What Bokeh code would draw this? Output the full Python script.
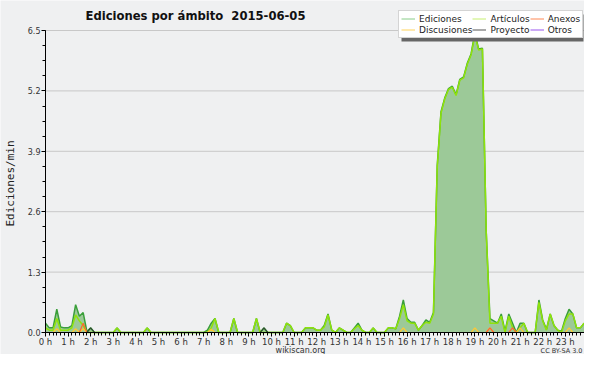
from bokeh.plotting import figure
from bokeh.models import (Range1d, FixedTicker, Label, Legend, LegendItem,
                          PrintfTickFormatter, BoxAnnotation)
from bokeh.embed import file_html
from bokeh.resources import INLINE

# 10-minute slots over the day (0 .. 23:50)
slots = list(range(144))
hours = [s / 6 for s in slots]

ediciones = [
    0.2, 0.1, 0.1, 0.5, 0.12, 0.1, 0.1, 0.15, 0.6, 0.35,
    0.43, 0.02, 0.1, 0, 0, 0, 0, 0, 0, 0.1,
    0, 0, 0, 0, 0, 0, 0, 0.1, 0, 0,
    0, 0, 0, 0, 0, 0, 0, 0, 0, 0,
    0, 0, 0, 0.05, 0.2, 0.3, 0, 0, 0, 0,
    0.3, 0, 0, 0, 0, 0, 0.3, 0, 0.1, 0,
    0, 0, 0, 0, 0.2, 0.15, 0, 0, 0, 0.1,
    0.1, 0.1, 0.05, 0.05, 0.15, 0.4, 0.05, 0, 0.1, 0.05,
    0, 0, 0.1, 0.2, 0.05, 0, 0, 0.1, 0, 0,
    0, 0.1, 0.1, 0.08, 0.35, 0.7, 0.3, 0.22, 0.22, 0.05,
    0.15, 0.27, 0.22, 0.43, 3.6, 4.75, 5.05, 5.25, 5.3, 5.12,
    5.45, 5.5, 5.8, 6.0, 6.45, 6.1, 6.12, 2.2, 0.3, 0.25,
    0.2, 0.4, 0.03, 0.4, 0.2, 0, 0.2, 0.2, 0, 0,
    0, 0.7, 0.27, 0.07, 0.4, 0.15, 0.05, 0.03, 0.3, 0.5,
    0.4, 0.1, 0.1, 0.2,
]
articulos = [
    0.1, 0.05, 0.05, 0.3, 0.05, 0.05, 0.05, 0.1, 0.38, 0.25,
    0.15, 0, 0, 0, 0, 0, 0, 0, 0, 0.1,
    0, 0, 0, 0, 0, 0, 0, 0.1, 0, 0,
    0, 0, 0, 0, 0, 0, 0, 0, 0, 0,
    0, 0, 0, 0, 0.1, 0.3, 0, 0, 0, 0,
    0.3, 0, 0, 0, 0, 0, 0.3, 0, 0, 0,
    0, 0, 0, 0, 0.2, 0.15, 0, 0, 0, 0.1,
    0.1, 0.1, 0.05, 0.05, 0.12, 0.38, 0.05, 0, 0.1, 0.05,
    0, 0, 0.08, 0.15, 0.05, 0, 0, 0.1, 0, 0,
    0, 0.1, 0.1, 0.08, 0.3, 0.6, 0.25, 0.2, 0.2, 0.05,
    0.15, 0.22, 0.2, 0.4, 3.55, 4.72, 5.03, 5.23, 5.28, 5.1,
    5.43, 5.48, 5.78, 5.98, 6.4, 6.08, 6.1, 2.18, 0.2, 0.2,
    0.2, 0.35, 0, 0.35, 0.1, 0, 0.1, 0.2, 0, 0,
    0, 0.65, 0.25, 0.05, 0.4, 0.15, 0.05, 0, 0.25, 0.4,
    0.4, 0.1, 0.1, 0.2,
]
discusiones = [
    0, 0, 0, 0.08, 0, 0, 0, 0, 0.08, 0,
    0.08, 0, 0, 0, 0, 0, 0, 0, 0, 0,
    0, 0, 0, 0, 0, 0, 0, 0, 0, 0,
    0, 0, 0, 0, 0, 0, 0, 0, 0, 0,
    0, 0, 0, 0, 0.07, 0, 0, 0, 0, 0,
    0, 0, 0, 0, 0, 0, 0, 0, 0, 0,
    0, 0, 0, 0, 0, 0, 0, 0, 0, 0,
    0, 0, 0, 0, 0, 0, 0, 0, 0, 0,
    0, 0, 0, 0, 0, 0, 0, 0, 0, 0,
    0, 0, 0, 0, 0, 0.1, 0, 0, 0, 0,
    0, 0, 0, 0, 0, 0, 0, 0, 0, 0,
    0, 0, 0, 0, 0.1, 0, 0, 0, 0.1, 0,
    0, 0, 0, 0, 0, 0, 0.1, 0, 0, 0,
    0, 0, 0, 0, 0, 0, 0, 0, 0, 0.1,
    0, 0, 0, 0,
]
anexos = [
    0, 0, 0, 0, 0, 0, 0, 0, 0, 0,
    0.2, 0, 0, 0, 0, 0, 0, 0, 0, 0,
    0, 0, 0, 0, 0, 0, 0, 0, 0, 0,
    0, 0, 0, 0, 0, 0, 0, 0, 0, 0,
    0, 0, 0, 0, 0, 0, 0, 0, 0, 0,
    0, 0, 0, 0, 0, 0, 0, 0, 0, 0,
    0, 0, 0, 0, 0, 0, 0, 0, 0, 0,
    0, 0, 0, 0, 0, 0, 0, 0, 0, 0,
    0, 0, 0, 0, 0, 0, 0, 0, 0, 0,
    0, 0, 0, 0, 0, 0, 0, 0, 0, 0,
    0, 0, 0, 0, 0, 0, 0, 0, 0, 0,
    0, 0, 0, 0, 0, 0, 0, 0, 0.1, 0,
    0, 0, 0, 0, 0.1, 0, 0, 0, 0, 0,
    0, 0, 0, 0, 0, 0, 0, 0, 0, 0,
    0, 0, 0, 0,
]
proyecto = [
    0, 0, 0, 0, 0, 0, 0, 0, 0, 0,
    0, 0, 0.1, 0, 0, 0, 0, 0, 0, 0,
    0, 0, 0, 0, 0, 0, 0, 0, 0, 0,
    0, 0, 0, 0, 0, 0, 0, 0, 0, 0,
    0, 0, 0, 0, 0, 0, 0, 0, 0, 0,
    0, 0, 0, 0, 0, 0, 0, 0, 0.1, 0,
    0, 0, 0, 0, 0, 0, 0, 0, 0, 0,
    0, 0, 0, 0, 0, 0, 0, 0, 0, 0,
    0, 0, 0, 0, 0, 0, 0, 0, 0, 0,
    0, 0, 0, 0, 0, 0, 0, 0, 0, 0,
    0, 0, 0, 0, 0, 0, 0, 0, 0, 0,
    0, 0, 0, 0, 0, 0, 0, 0, 0, 0,
    0, 0, 0, 0, 0, 0, 0, 0, 0, 0,
    0, 0, 0, 0, 0, 0, 0, 0, 0, 0,
    0, 0, 0, 0,
]
otros = [0] * 144

hour_ticks = list(range(24))
hour_labels = ["0 h", "1 h", "2 h", "3 h", "4 h", "5 h", "6 h", "7 h", "8 h", "9 h",
               "10 h", "11 h", "12 h", "13 h", "14 h", "15 h", "16 h", "17 h", "18 h",
               "19 h", "20 h", "21 h", "22 h", "23 h"]
y_ticks = [0.0, 1.3, 2.6, 3.9, 5.2, 6.5]
y_minor = [i * 0.325 for i in range(21)]
x_minor = [i / 6 for i in range(144)]
X_END = 23.85

BG = "#eff0f1"
FONT = "DejaVu Sans"

# the whole canvas is the plot frame; axes are pinned at x=0 / y=0
p = figure(width=584, height=354,
           x_range=Range1d(-1.991, X_END), y_range=Range1d(-0.4735, 7.1457),
           output_backend="svg", toolbar_location=None, title=None,
           min_border_left=0, min_border_right=0, min_border_top=0, min_border_bottom=0,
           background_fill_color=BG, border_fill_color=BG, outline_line_color=None)

p.xgrid.visible = False
p.ygrid.visible = False
# horizontal grid lines only inside the plotting area
p.segment(x0=0, x1=X_END, y0=y_ticks, y1=y_ticks, line_color="#c8c8c8", line_width=1)

xa = p.xaxis[0]
xa.fixed_location = 0
xa.bounds = (0, X_END)
xa.ticker = FixedTicker(ticks=hour_ticks, minor_ticks=x_minor)
xa.major_label_overrides = {t: l for t, l in zip(hour_ticks, hour_labels)}
xa.major_tick_in = 0
xa.major_tick_out = 4
xa.minor_tick_in = 0
xa.minor_tick_out = 3
xa.axis_line_color = "black"
xa.major_tick_line_color = "black"
xa.minor_tick_line_color = "black"
xa.major_label_standoff = 0
xa.major_label_text_font = FONT
xa.major_label_text_font_size = "8.5px"
xa.major_label_text_color = "#333333"

ya = p.yaxis[0]
ya.fixed_location = 0
ya.bounds = (0, 6.5)
ya.ticker = FixedTicker(ticks=y_ticks, minor_ticks=y_minor)
ya.formatter = PrintfTickFormatter(format="%.1f")
ya.major_tick_in = 0
ya.major_tick_out = 4
ya.minor_tick_in = 0
ya.minor_tick_out = 3
ya.axis_line_color = "black"
ya.major_tick_line_color = "black"
ya.minor_tick_line_color = "black"
ya.major_label_standoff = 1
ya.major_label_text_font = FONT
ya.major_label_text_font_size = "8px"
ya.major_label_text_color = "#333333"

# data
p.varea(x=hours, y1=0, y2=ediciones, fill_color="#9cc998")
p.line(hours, ediciones, line_color="#3a9f3a", line_width=1.5)
p.line(hours, articulos, line_color="#8fe30a", line_width=1.5)
p.line(hours, otros, line_color="#9955ee", line_width=1)
p.line(hours, discusiones, line_color="#ffc833", line_width=1.2)
p.line(hours, anexos, line_color="#ff6633", line_width=1.2)
p.line(hours, proyecto, line_color="#2f4f2f", line_width=1.2)

# legend swatches (renderers kept outside the visible ranges)
names = ["Ediciones", "Discusiones", "Artículos", "Proyecto", "Anexos", "Otros"]
colors = ["#88cc88", "#ffd35a", "#c6ef70", "#555555", "#ff8855", "#9955ee"]
items = []
for n, c in zip(names, colors):
    r = p.line(x=[-100, -99], y=[-100, -100], line_color=c, line_width=1)
    items.append(LegendItem(label=n, renderers=[r]))

shadow = BoxAnnotation(left=401, right=583, top=340, bottom=313,
                       left_units="screen", right_units="screen",
                       top_units="screen", bottom_units="screen",
                       fill_color="#666666", fill_alpha=1, line_color=None)
p.add_layout(shadow)

legend = Legend(items=items, location=(398, 316), orientation="vertical", nrows=2,
                background_fill_color="white", background_fill_alpha=1,
                border_line_color="#aaaaaa", border_line_width=1,
                padding=2, spacing=0, margin=0, label_standoff=4,
                glyph_width=14, glyph_height=11, label_height=11,
                label_text_font=FONT, label_text_font_size="9px",
                label_text_color="#222222")
p.add_layout(legend)

p.add_layout(Label(x=85, y=339, x_units="screen", y_units="screen",
                   text="Ediciones por ámbito\u00a0 2015-06-05", text_font=FONT,
                   text_font_style="bold", text_font_size="11.6px",
                   text_align="left", text_baseline="middle", text_color="#111111"))
p.add_layout(Label(x=10, y=171, x_units="screen", y_units="screen", angle=90,
                   angle_units="deg", text="Ediciones/min",
                   text_font="DejaVu Sans Mono", text_font_size="11px",
                   text_align="center", text_baseline="middle", text_color="#222222"))
p.add_layout(Label(x=300, y=4, x_units="screen", y_units="screen",
                   text="wikiscan.org", text_font=FONT, text_font_size="8px",
                   text_align="center", text_baseline="middle", text_color="#333333"))
p.add_layout(Label(x=582, y=4, x_units="screen", y_units="screen",
                   text="CC BY-SA 3.0", text_font=FONT, text_font_size="6.5px",
                   text_align="right", text_baseline="middle", text_color="#333333"))

open("out.html", "w").write(file_html(p, INLINE))
